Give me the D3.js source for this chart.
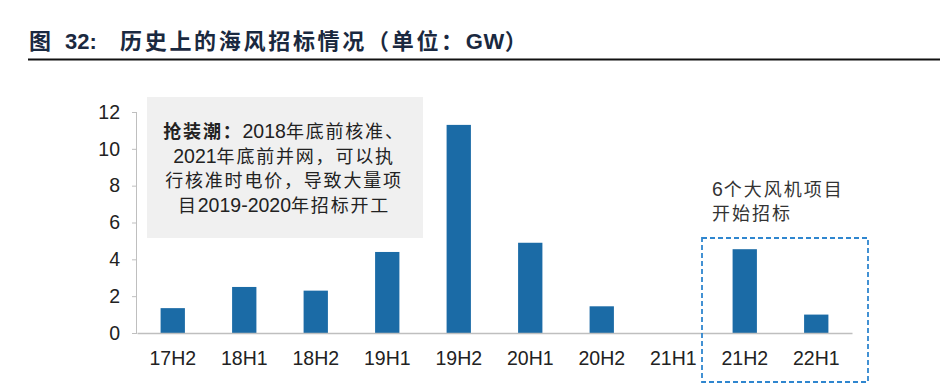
<!DOCTYPE html>
<html><head><meta charset="utf-8">
<script src="https://cdn.jsdelivr.net/npm/d3@7/dist/d3.min.js"></script>
<style>
body{margin:0;background:#fff;}
svg{display:block;font-family:"Liberation Sans","Noto Sans CJK SC",sans-serif;}
</style></head>
<body>
<svg id="c" width="940" height="392"></svg>
<script>
const categories = ["17H2","18H1","18H2","19H1","19H2","20H1","20H2","21H1","21H2","22H1"];
const values = [1.35, 2.5, 2.3, 4.4, 11.3, 4.9, 1.45, 0, 4.55, 1.0];
const yTicks = [0, 2, 4, 6, 8, 10, 12];
const titleParts = ["图", "32:", "历史上的海风招标情况（单位：GW）"];
const noteLines = [["抢装潮：", "2018年底前核准、"], ["", "2021年底前并网，可以执"], ["", "行核准时电价，导致大量项"], ["", "目2019-2020年招标开工"]];
const sideNote = ["6个大风机项目", "开始招标"];
const highlighted = ["21H2", "22H1"];

const svg = d3.select("#c");
const x = d3.scaleBand().domain(categories).range([137, 852]).paddingInner(0.66).paddingOuter(0.33);
const y = d3.scaleLinear().domain([0, 12]).range([333, 112]);

// write text as runs: CJK runs get letter-spacing, Latin runs get their own size/spacing
function runs(sel, str, cjkSpacing, latinSize, latinSpacing) {
  (str.match(/[\u0000-\u024F]+|[^\u0000-\u024F]+/g) || []).forEach(r => {
    const latin = /^[\u0000-\u024F]+$/.test(r);
    const ts = sel.append("tspan").attr("letter-spacing", latin ? latinSpacing : cjkSpacing).text(r);
    if (latin && latinSize) ts.attr("font-size", latinSize);
  });
}

// title
const tt = svg.append("text").attr("y", 49).attr("font-size", 22).attr("font-weight", "bold")
  .attr("fill", "#1a2940");
tt.append("tspan").attr("x", 29).attr("font-family", "'Noto Sans CJK SC',sans-serif").text(titleParts[0]);
tt.append("tspan").attr("x", 65).attr("font-family", "'Liberation Sans',sans-serif").text(titleParts[1]);
const t3 = tt.append("tspan").attr("x", 120);
runs(t3, titleParts[2], 2.7, null, 0.5);
svg.append("line").attr("x1", 28).attr("x2", 940).attr("y1", 59.5).attr("y2", 59.5).attr("stroke", "#111").attr("stroke-width", 2);

// note box
svg.append("rect").attr("x", 147).attr("y", 97).attr("width", 276).attr("height", 141).attr("fill", "#f0f0f0");
noteLines.forEach((ln, i) => {
  const t = svg.append("text").attr("x", 284).attr("y", 138 + i * 24.5).attr("text-anchor", "middle")
    .attr("font-size", 18).attr("fill", "#222");
  if (ln[0]) t.append("tspan").attr("font-weight", "bold").attr("letter-spacing", 1.8)
    .attr("font-family", "'Noto Sans CJK SC',sans-serif").text(ln[0]);
  runs(t, ln[1], 1.8, 19.5, 0);
});

// y axis
const yAxis = svg.append("g").attr("transform", "translate(137,0)")
  .call(d3.axisLeft(y).tickValues(yTicks).tickSize(5).tickPadding(12).tickFormat(d3.format("d")));
yAxis.select(".domain").attr("stroke", "#bfbfbf").attr("d", `M-0.5,${y(12)}V${y(0)}`);
yAxis.selectAll(".tick line").attr("stroke", "#bfbfbf");
yAxis.selectAll(".tick text").attr("font-size", 19.5).attr("fill", "#222").attr("font-family", "'Liberation Sans',sans-serif");

// bars
svg.append("g").selectAll("rect").data(categories).join("rect")
  .attr("x", d => x(d)).attr("width", x.bandwidth())
  .attr("y", (d, i) => y(values[i])).attr("height", (d, i) => y(0) - y(values[i]))
  .attr("fill", "#1b6ba6");

// x axis
const xAxis = svg.append("g").attr("transform", `translate(0,${y(0)})`)
  .call(d3.axisBottom(x).tickSize(0).tickPadding(18));
xAxis.select(".domain").attr("stroke", "#bfbfbf").attr("stroke-width", 1.5);
xAxis.selectAll(".tick text").attr("font-size", 19.5).attr("fill", "#222").attr("font-family", "'Liberation Sans',sans-serif");

// highlight dashed box
const hx0 = x(highlighted[0]) - (x.step() - x.bandwidth()) / 2 - 7;
const hx1 = x(highlighted[1]) + x.bandwidth() + (x.step() - x.bandwidth()) / 2 + 16;
svg.append("rect").attr("x", hx0).attr("y", 238).attr("width", hx1 - hx0).attr("height", 144)
  .attr("fill", "none").attr("stroke", "#2f86cf").attr("stroke-width", 1.8).attr("stroke-dasharray", "5,3");

sideNote.forEach((s, i) => {
  const t = svg.append("text").attr("x", 712).attr("y", 196 + i * 23.5).attr("font-size", 18).attr("fill", "#333");
  runs(t, s, 2, 19.5, 1);
});
</script>
</body></html>
